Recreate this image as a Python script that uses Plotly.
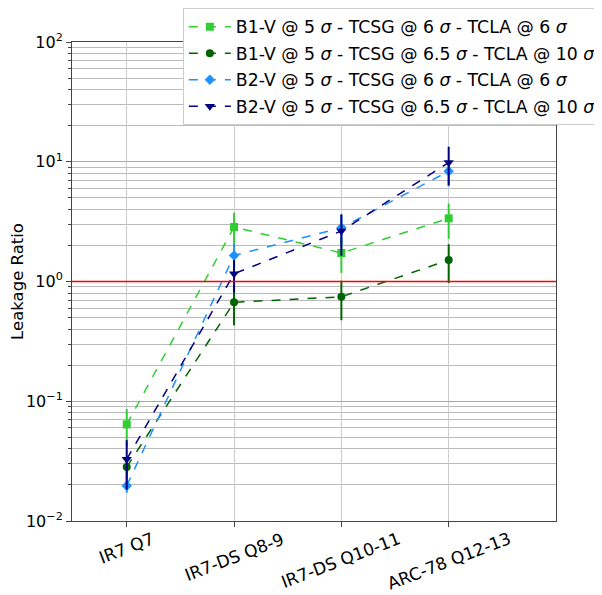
import plotly.graph_objects as go

categories = ["IR7 Q7", "IR7-DS Q8-9", "IR7-DS Q10-11", "ARC-78 Q12-13"]

b1_6_6 = [0.064, 2.85, 1.73, 3.37]
b1_6_6_err = [0.022, 0.9, 0.55, 1.1]

b1_65_10 = [0.0283, 0.67, 0.745, 1.51]
b1_65_10_err = [0.006, 0.24, 0.27, 0.54]

b2_6_6 = [0.0197, 1.65, 2.81, 8.33]
b2_6_6_err = [0.0025, 0.4, 0.8, 2.1]

b2_65_10 = [0.0328, 1.16, 2.64, 9.85]
b2_65_10_err = [0.0145, 0.35, 1.0, 3.5]

series = [
    ("B1-V @ 5 <i>σ</i> - TCSG @ 6 <i>σ</i> - TCLA @ 6 <i>σ</i>", b1_6_6, b1_6_6_err, "#32cd32", "square", 8),
    ("B1-V @ 5 <i>σ</i> - TCSG @ 6.5 <i>σ</i> - TCLA @ 10 <i>σ</i>", b1_65_10, b1_65_10_err, "#006400", "circle", 8),
    ("B2-V @ 5 <i>σ</i> - TCSG @ 6 <i>σ</i> - TCLA @ 6 <i>σ</i>", b2_6_6, b2_6_6_err, "#1e90ff", "diamond", 8),
    ("B2-V @ 5 <i>σ</i> - TCSG @ 6.5 <i>σ</i> - TCLA @ 10 <i>σ</i>", b2_65_10, b2_65_10_err, "#000080", "triangle-down", 9),
]

fig = go.Figure()

for k, (name, vals, errs, color, symbol, size) in enumerate(series):
    fig.add_trace(go.Scatter(
        x=list(range(len(categories))),
        y=vals,
        error_y=dict(type="data", array=errs, color=color, thickness=2, width=0),
        mode="lines+markers",
        name=name,
        legendgroup=f"g{k}",
        line=dict(color=color, width=1.5, dash="dash"),
        marker=dict(color=color, symbol=symbol, size=size),
    ))

# reference line at ratio = 1
fig.add_shape(type="line", xref="paper", x0=0, x1=1, yref="y", y0=1, y1=1,
              line=dict(color="#ff0000", width=1.5), layer="above")

# rotated category labels, centred under their ticks
for i, cat in enumerate(categories):
    fig.add_annotation(x=i, xref="x", y=0, yref="paper", text=cat,
                       showarrow=False, textangle=-21,
                       xanchor="center", yanchor="top", yshift=-5,
                       font=dict(size=17))

# page body adds an 8px offset, so the figure is 8px smaller and margins shifted
fig.update_layout(
    width=594, height=587,
    margin=dict(l=64, r=46, t=34, b=74, autoexpand=False),
    plot_bgcolor="white",
    paper_bgcolor="white",
    font=dict(family="DejaVu Sans", size=16, color="black"),
    showlegend=True,
    legend=dict(
        x=0.229, xanchor="left", y=1.071, yanchor="top",
        bgcolor="white", bordercolor="#cccccc", borderwidth=1,
        font=dict(size=17.3), tracegroupgap=1, itemwidth=42,
    ),
)

fig.update_xaxes(
    range=[-0.51, 4.0],
    tickvals=list(range(len(categories))),
    showticklabels=False,
    ticks="outside", ticklen=5, tickcolor="#444",
    showgrid=True, gridcolor="#cccccc", gridwidth=1,
    showline=True, linecolor="#444", linewidth=1, mirror=True,
    zeroline=False,
)

fig.update_yaxes(
    type="log",
    range=[-2, 2],
    tickvals=[0.01, 0.1, 1, 10, 100],
    ticktext=["10<sup>−2</sup>", "10<sup>−1</sup>", "10<sup>0</sup>", "10<sup>1</sup>", "10<sup>2</sup>"],
    ticks="outside", ticklen=5, tickcolor="#444",
    showgrid=True, gridcolor="#aaaaaa", gridwidth=1,
    minor=dict(dtick="D1", showgrid=True, gridcolor="#bbbbbb", ticks="outside", ticklen=3, tickcolor="#444"),
    showline=True, linecolor="#444", linewidth=1, mirror=True,
    title=dict(text="Leakage Ratio", standoff=8, font=dict(size=16.5)),
    zeroline=False,
)

fig.write_html("out.html")
